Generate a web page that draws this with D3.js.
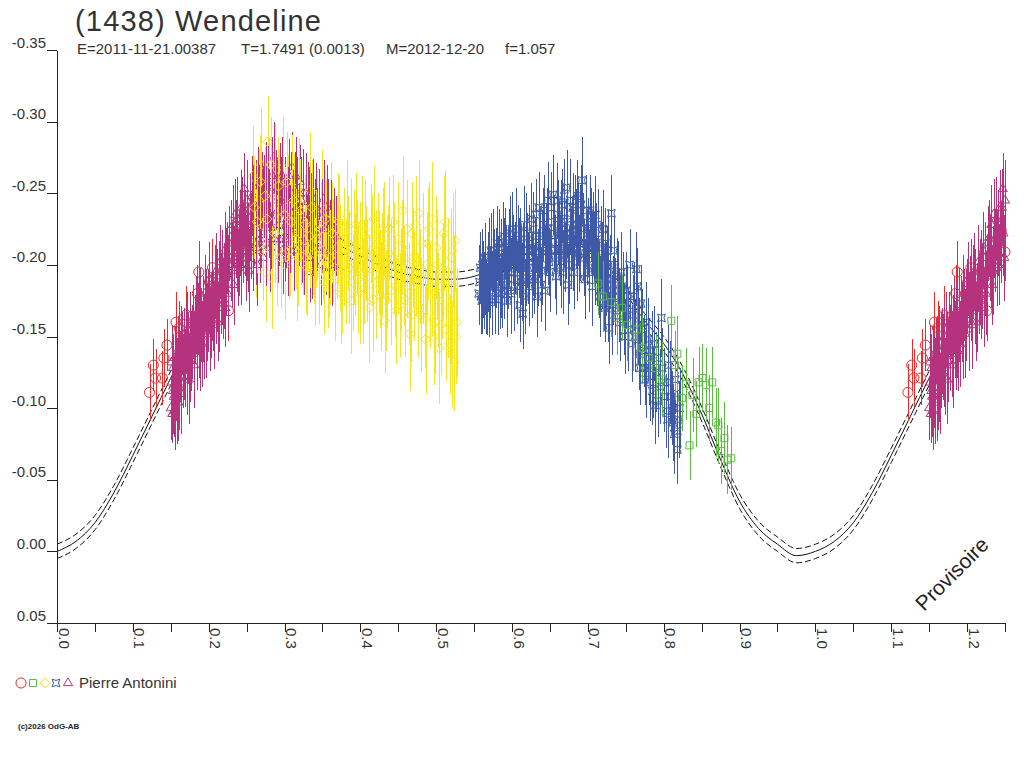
<!DOCTYPE html>
<html>
<head>
<meta charset="utf-8">
<script src="https://cdn.jsdelivr.net/npm/d3@7"></script>
<style>
  body { margin: 0; background: #fff; }
  svg { display: block; font-family: "Liberation Sans", Arial, sans-serif; }
</style>
</head>
<body>
<svg id="chart" width="1024" height="768"></svg>
<script>
/*** DATA ***/
var yTicks = [-0.35, -0.30, -0.25, -0.20, -0.15, -0.10, -0.05, 0.00, 0.05];
var xMajorTicks = [0, 0.1, 0.2, 0.3, 0.4, 0.5, 0.6, 0.7, 0.8, 0.9, 1.0, 1.1, 1.2];
var xMinorTicks = [0.05, 0.15, 0.25, 0.35, 0.45, 0.55, 0.65, 0.75, 0.85, 0.95, 1.05, 1.15, 1.25];

//fourier fit (phase 0..1) and its uncertainty band
var fitPhase = [0, 0.025, 0.05, 0.075, 0.1, 0.125, 0.15, 0.175, 0.2, 0.225, 0.25, 0.275, 0.3, 0.325, 0.35, 0.375, 0.4, 0.425, 0.45, 0.475, 0.5,
  0.525, 0.55, 0.575, 0.6, 0.625, 0.65, 0.675, 0.7, 0.725, 0.75, 0.775, 0.8, 0.825, 0.85, 0.875, 0.9, 0.925, 0.95, 0.975, 1.0];
var fitMag = [0.000, -0.007, -0.020, -0.041, -0.067, -0.094, -0.121, -0.147, -0.171, -0.194, -0.209, -0.217, -0.221, -0.222, -0.219, -0.213, -0.206,
  -0.200, -0.195, -0.192, -0.190, -0.190, -0.192, -0.197, -0.203, -0.209, -0.213, -0.214, -0.211, -0.200, -0.180, -0.161, -0.145, -0.124,
  -0.096, -0.064, -0.035, -0.016, -0.005, 0.003, 0.000];
var fitSigma = 0.005;

//observations: [phase, mag, error]
var redObs = [[0.122,-0.111,0.020],[0.127,-0.130,0.018],[0.130,-0.121,0.020],[0.139,-0.121,0.019],[0.141,-0.135,0.020],[0.145,-0.144,0.018],
  [0.157,-0.160,0.021],[0.161,-0.156,0.019],[0.170,-0.165,0.020],[0.185,-0.180,0.020],[0.187,-0.195,0.022],[0.201,-0.188,0.020],
  [0.205,-0.198,0.020],[0.217,-0.178,0.019],[0.226,-0.168,0.021],[0.236,-0.215,0.020],[0.245,-0.224,0.020],[0.250,-0.209,0.020],
  [0.262,-0.205,0.022],[0.300,-0.210,0.020],[0.315,-0.240,0.018],[0.342,-0.222,0.020],[0.350,-0.232,0.020]];

var yellowObs = [[0.258,-0.262,0.035],[0.262,-0.215,0.038],[0.266,-0.245,0.036],[0.269,-0.270,0.040],[0.272,-0.228,0.037],[0.275,-0.195,0.035],
  [0.278,-0.286,0.032],[0.280,-0.250,0.038],[0.283,-0.191,0.036],[0.285,-0.238,0.040],[0.288,-0.262,0.037],[0.290,-0.210,0.039],
  [0.293,-0.245,0.036],[0.296,-0.225,0.040],[0.298,-0.268,0.035],[0.301,-0.200,0.038],[0.304,-0.240,0.037],[0.307,-0.218,0.040],
  [0.310,-0.255,0.036],[0.313,-0.230,0.039],[0.316,-0.198,0.037],[0.319,-0.248,0.040],[0.322,-0.222,0.036],[0.325,-0.240,0.038],
  [0.328,-0.205,0.039],[0.331,-0.232,0.037],[0.334,-0.252,0.040],[0.337,-0.215,0.036],[0.340,-0.195,0.038],[0.343,-0.228,0.039],
  [0.346,-0.208,0.037],[0.349,-0.240,0.040],[0.352,-0.188,0.036],[0.355,-0.220,0.039],[0.358,-0.200,0.037],[0.361,-0.232,0.040],
  [0.364,-0.210,0.036],[0.367,-0.185,0.038],[0.370,-0.225,0.039],[0.373,-0.205,0.037],[0.376,-0.192,0.040],[0.379,-0.218,0.036],
  [0.382,-0.235,0.038],[0.385,-0.198,0.039],[0.388,-0.175,0.037],[0.391,-0.212,0.040],[0.394,-0.228,0.036],[0.397,-0.190,0.038],
  [0.400,-0.205,0.039],[0.403,-0.182,0.037],[0.406,-0.220,0.040],[0.409,-0.196,0.036],[0.412,-0.170,0.038],[0.415,-0.210,0.039],
  [0.418,-0.232,0.037],[0.421,-0.188,0.040],[0.424,-0.202,0.036],[0.427,-0.178,0.038],[0.430,-0.215,0.039],[0.432,-0.161,0.037],
  [0.435,-0.195,0.040],[0.438,-0.225,0.036],[0.441,-0.182,0.038],[0.444,-0.205,0.039],[0.447,-0.168,0.037],[0.450,-0.218,0.040],
  [0.453,-0.190,0.036],[0.456,-0.238,0.038],[0.459,-0.175,0.039],[0.462,-0.200,0.037],[0.465,-0.152,0.040],[0.468,-0.222,0.036],
  [0.471,-0.185,0.038],[0.474,-0.205,0.039],[0.477,-0.236,0.037],[0.480,-0.165,0.040],[0.483,-0.195,0.036],[0.486,-0.148,0.038],
  [0.489,-0.215,0.039],[0.492,-0.178,0.037],[0.495,-0.232,0.040],[0.498,-0.160,0.036],[0.501,-0.200,0.038],[0.504,-0.142,0.039],
  [0.507,-0.185,0.037],[0.510,-0.222,0.040],[0.513,-0.155,0.036],[0.516,-0.195,0.038],[0.519,-0.170,0.039],[0.521,-0.138,0.037],
  [0.522,-0.210,0.040],[0.524,-0.132,0.034],[0.525,-0.217,0.036],[0.527,-0.160,0.038]];
var yellowObs2 = [[0.260,-0.240,0.036],[0.264,-0.230,0.036],[0.268,-0.258,0.033],[0.271,-0.210,0.035],[0.274,-0.248,0.034],[0.277,-0.232,0.036],
  [0.282,-0.270,0.033],[0.287,-0.222,0.035],[0.292,-0.255,0.034],[0.295,-0.205,0.036],[0.300,-0.235,0.033],[0.303,-0.258,0.035],
  [0.306,-0.210,0.034],[0.309,-0.230,0.036],[0.312,-0.245,0.033],[0.315,-0.218,0.035],[0.318,-0.205,0.034],[0.321,-0.238,0.036],
  [0.324,-0.212,0.033],[0.327,-0.228,0.035],[0.330,-0.198,0.034],[0.333,-0.220,0.036],[0.336,-0.240,0.033],[0.339,-0.208,0.035],
  [0.342,-0.218,0.034],[0.345,-0.195,0.036],[0.348,-0.225,0.033],[0.351,-0.210,0.035],[0.354,-0.232,0.034],[0.357,-0.192,0.036],
  [0.360,-0.205,0.033],[0.363,-0.222,0.035],[0.366,-0.198,0.034],[0.369,-0.212,0.036],[0.372,-0.230,0.033],[0.375,-0.180,0.035],
  [0.378,-0.205,0.034],[0.381,-0.195,0.036],[0.384,-0.215,0.033],[0.387,-0.225,0.035],[0.390,-0.188,0.034],[0.393,-0.200,0.036],
  [0.396,-0.212,0.033],[0.399,-0.180,0.035],[0.402,-0.228,0.034],[0.405,-0.195,0.036],[0.408,-0.208,0.033],[0.411,-0.186,0.035],
  [0.414,-0.222,0.034],[0.417,-0.176,0.036],[0.420,-0.205,0.033],[0.423,-0.215,0.035],[0.426,-0.190,0.034],[0.429,-0.200,0.036],
  [0.431,-0.225,0.033],[0.434,-0.175,0.035],[0.437,-0.208,0.034],[0.440,-0.195,0.036],[0.443,-0.230,0.033],[0.446,-0.185,0.035],
  [0.449,-0.200,0.034],[0.452,-0.172,0.036],[0.455,-0.212,0.033],[0.458,-0.192,0.035],[0.461,-0.225,0.034],[0.464,-0.180,0.036],
  [0.467,-0.165,0.033],[0.470,-0.205,0.035],[0.473,-0.228,0.034],[0.476,-0.172,0.036],[0.479,-0.192,0.033],[0.482,-0.215,0.035],
  [0.485,-0.162,0.034],[0.488,-0.200,0.036],[0.491,-0.225,0.033],[0.494,-0.185,0.035],[0.497,-0.150,0.034],[0.500,-0.212,0.036],
  [0.503,-0.175,0.033],[0.506,-0.158,0.035],[0.509,-0.195,0.034],[0.512,-0.230,0.036],[0.515,-0.168,0.033],[0.518,-0.145,0.035],
  [0.520,-0.205,0.034],[0.523,-0.185,0.036],[0.526,-0.150,0.033]];

var magentaObs = [[0.150,-0.100,0.022],[0.151,-0.118,0.025],[0.152,-0.096,0.020],[0.153,-0.128,0.024],[0.154,-0.108,0.028],[0.155,-0.135,0.022],
  [0.156,-0.112,0.026],[0.158,-0.124,0.025],[0.159,-0.140,0.023],[0.160,-0.104,0.027],[0.162,-0.130,0.024],[0.163,-0.118,0.028],
  [0.165,-0.145,0.022],[0.166,-0.126,0.026],[0.168,-0.136,0.030],[0.170,-0.150,0.024],[0.171,-0.122,0.027],[0.173,-0.142,0.025],
  [0.175,-0.133,0.029],[0.176,-0.159,0.022],[0.178,-0.146,0.026],[0.180,-0.138,0.030],[0.182,-0.155,0.024],[0.184,-0.148,0.027],
  [0.186,-0.162,0.025],[0.188,-0.140,0.028],[0.190,-0.158,0.026],[0.192,-0.168,0.024],[0.194,-0.150,0.030],[0.196,-0.172,0.025],
  [0.198,-0.160,0.027],[0.200,-0.178,0.026],[0.202,-0.155,0.029],[0.204,-0.182,0.024],[0.206,-0.168,0.028],[0.208,-0.188,0.026],
  [0.210,-0.175,0.030],[0.212,-0.160,0.027],[0.214,-0.192,0.025],[0.216,-0.180,0.028],[0.218,-0.198,0.026],[0.220,-0.185,0.030],
  [0.222,-0.170,0.027],[0.224,-0.205,0.025],[0.226,-0.192,0.029],[0.229,-0.219,0.026],[0.231,-0.200,0.030],[0.233,-0.186,0.028],
  [0.235,-0.235,0.025],[0.237,-0.210,0.029],[0.239,-0.198,0.027],[0.241,-0.222,0.030],[0.243,-0.240,0.026],[0.245,-0.215,0.028],
  [0.247,-0.253,0.025],[0.249,-0.205,0.030],[0.251,-0.228,0.027],[0.253,-0.196,0.029],[0.255,-0.238,0.026],[0.257,-0.248,0.028],
  [0.259,-0.212,0.030],[0.262,-0.246,0.027],[0.264,-0.200,0.029],[0.266,-0.232,0.026],[0.268,-0.218,0.031],[0.270,-0.252,0.027],
  [0.272,-0.205,0.030],[0.275,-0.260,0.026],[0.277,-0.228,0.029],[0.279,-0.242,0.028],[0.281,-0.212,0.031],[0.283,-0.250,0.027],
  [0.286,-0.275,0.025],[0.288,-0.230,0.030],[0.290,-0.245,0.028],[0.292,-0.218,0.031],[0.294,-0.258,0.027],[0.296,-0.236,0.029],
  [0.298,-0.210,0.030],[0.300,-0.248,0.027],[0.302,-0.228,0.031],[0.304,-0.206,0.028],[0.306,-0.262,0.026],[0.308,-0.240,0.030],
  [0.310,-0.268,0.025],[0.312,-0.222,0.029],[0.314,-0.252,0.027],[0.316,-0.236,0.031],[0.318,-0.214,0.028],[0.320,-0.258,0.026],
  [0.322,-0.245,0.030],[0.324,-0.228,0.027],[0.326,-0.208,0.029],[0.328,-0.250,0.028],[0.330,-0.195,0.026],[0.332,-0.238,0.030],
  [0.334,-0.220,0.027],[0.336,-0.205,0.029],[0.338,-0.246,0.028],[0.340,-0.230,0.030],[0.342,-0.212,0.027],[0.345,-0.238,0.029],
  [0.348,-0.200,0.028],[0.350,-0.224,0.030],[0.352,-0.246,0.027],[0.355,-0.208,0.029],[0.357,-0.232,0.028],[0.360,-0.215,0.030],
  [0.362,-0.198,0.027],[0.365,-0.225,0.029]];
var magentaObs2 = [[0.151,-0.132,0.026],[0.153,-0.112,0.030],[0.155,-0.098,0.027],[0.157,-0.120,0.029],[0.158,-0.106,0.031],[0.160,-0.138,0.026],
  [0.161,-0.115,0.030],[0.163,-0.146,0.025],[0.164,-0.110,0.028],[0.167,-0.140,0.030],[0.169,-0.128,0.027],[0.172,-0.155,0.026],
  [0.174,-0.120,0.031],[0.177,-0.140,0.028],[0.179,-0.160,0.026],[0.181,-0.130,0.030],[0.183,-0.165,0.027],[0.185,-0.142,0.029],
  [0.187,-0.152,0.031],[0.189,-0.172,0.026],[0.191,-0.145,0.030],[0.193,-0.160,0.028],[0.195,-0.180,0.027],[0.197,-0.152,0.031],
  [0.199,-0.168,0.029],[0.201,-0.190,0.026],[0.203,-0.165,0.030],[0.205,-0.175,0.028],[0.207,-0.158,0.031],[0.209,-0.195,0.027],
  [0.211,-0.182,0.029],[0.213,-0.170,0.031],[0.215,-0.202,0.026],[0.217,-0.188,0.030],[0.219,-0.176,0.028],[0.221,-0.210,0.027],
  [0.223,-0.195,0.031],[0.225,-0.180,0.029],[0.227,-0.215,0.026],[0.230,-0.205,0.030],[0.232,-0.228,0.028],[0.234,-0.196,0.031],
  [0.236,-0.218,0.027],[0.238,-0.232,0.029],[0.240,-0.208,0.030],[0.242,-0.200,0.028],[0.244,-0.230,0.031],[0.246,-0.240,0.027],
  [0.248,-0.222,0.030],[0.250,-0.245,0.028],[0.252,-0.212,0.031],[0.254,-0.232,0.029],[0.256,-0.220,0.030],[0.258,-0.242,0.028],
  [0.260,-0.230,0.031],[0.263,-0.215,0.029],[0.265,-0.255,0.027],[0.267,-0.240,0.030],[0.269,-0.226,0.028],[0.271,-0.238,0.031],
  [0.273,-0.248,0.029],[0.276,-0.215,0.030],[0.278,-0.255,0.028],[0.280,-0.236,0.031],[0.282,-0.226,0.029],[0.284,-0.262,0.027],
  [0.287,-0.218,0.030],[0.289,-0.252,0.028],[0.291,-0.238,0.031],[0.293,-0.228,0.029],[0.295,-0.245,0.030],[0.297,-0.262,0.027],
  [0.299,-0.232,0.031],[0.301,-0.218,0.029],[0.303,-0.255,0.030],[0.305,-0.240,0.028],[0.307,-0.225,0.031],[0.309,-0.250,0.029],
  [0.311,-0.236,0.030],[0.313,-0.210,0.028],[0.315,-0.262,0.027],[0.317,-0.244,0.031],[0.319,-0.228,0.029],[0.321,-0.236,0.030],
  [0.323,-0.215,0.028],[0.325,-0.250,0.031],[0.327,-0.232,0.029],[0.329,-0.218,0.030],[0.331,-0.244,0.028],[0.333,-0.205,0.031],
  [0.335,-0.235,0.029],[0.337,-0.222,0.030],[0.339,-0.212,0.028],[0.341,-0.240,0.031],[0.343,-0.225,0.029],[0.346,-0.215,0.030],
  [0.349,-0.232,0.028],[0.351,-0.210,0.031],[0.353,-0.225,0.029],[0.356,-0.240,0.030],[0.358,-0.205,0.028],[0.361,-0.228,0.031],
  [0.363,-0.212,0.029],[0.366,-0.200,0.030],[0.368,-0.220,0.028]];

var blueObs = [[0.556,-0.180,0.022],[0.558,-0.198,0.025],[0.560,-0.175,0.023],[0.562,-0.190,0.027],[0.564,-0.205,0.024],[0.566,-0.178,0.026],
  [0.568,-0.195,0.028],[0.570,-0.174,0.024],[0.572,-0.210,0.026],[0.574,-0.185,0.025],[0.576,-0.198,0.027],[0.578,-0.176,0.024],
  [0.580,-0.215,0.026],[0.582,-0.192,0.028],[0.584,-0.180,0.025],[0.586,-0.205,0.027],[0.588,-0.220,0.024],[0.590,-0.188,0.026],
  [0.592,-0.200,0.028],[0.594,-0.175,0.025],[0.596,-0.212,0.027],[0.598,-0.195,0.024],[0.600,-0.225,0.026],[0.602,-0.182,0.028],
  [0.604,-0.205,0.025],[0.606,-0.190,0.027],[0.608,-0.218,0.024],[0.610,-0.172,0.026],[0.612,-0.200,0.028],[0.614,-0.166,0.025],
  [0.616,-0.228,0.027],[0.618,-0.195,0.024],[0.620,-0.210,0.026],[0.622,-0.185,0.028],[0.625,-0.232,0.025],[0.627,-0.205,0.027],
  [0.629,-0.190,0.024],[0.631,-0.220,0.026],[0.633,-0.178,0.028],[0.635,-0.240,0.025],[0.637,-0.212,0.027],[0.639,-0.196,0.024],
  [0.641,-0.228,0.026],[0.643,-0.182,0.028],[0.645,-0.218,0.025],[0.647,-0.245,0.027],[0.649,-0.202,0.024],[0.651,-0.230,0.026],
  [0.654,-0.249,0.028],[0.656,-0.210,0.025],[0.658,-0.192,0.027],[0.660,-0.235,0.024],[0.662,-0.218,0.026],[0.664,-0.198,0.028],
  [0.666,-0.242,0.025],[0.668,-0.225,0.027],[0.670,-0.205,0.024],[0.672,-0.254,0.026],[0.674,-0.186,0.028],[0.676,-0.232,0.025],
  [0.678,-0.212,0.027],[0.680,-0.240,0.024],[0.682,-0.195,0.026],[0.684,-0.225,0.028],[0.686,-0.248,0.025],[0.688,-0.208,0.027],
  [0.690,-0.232,0.024],[0.692,-0.259,0.030],[0.694,-0.215,0.026],[0.696,-0.190,0.028],[0.698,-0.238,0.025],[0.700,-0.220,0.027],
  [0.702,-0.200,0.024],[0.704,-0.228,0.026],[0.706,-0.185,0.028],[0.708,-0.212,0.025],[0.710,-0.235,0.027],[0.712,-0.195,0.024],
  [0.714,-0.218,0.026],[0.716,-0.178,0.028],[0.718,-0.205,0.025],[0.720,-0.225,0.027],[0.722,-0.170,0.024],[0.724,-0.190,0.026],
  [0.726,-0.210,0.028],[0.728,-0.156,0.025],[0.731,-0.236,0.027],[0.733,-0.182,0.024],[0.735,-0.200,0.026],[0.738,-0.168,0.028],
  [0.740,-0.192,0.025],[0.743,-0.160,0.027],[0.746,-0.185,0.024],[0.749,-0.150,0.026],[0.752,-0.172,0.028],[0.755,-0.200,0.025],
  [0.758,-0.145,0.027],[0.761,-0.178,0.024],[0.764,-0.197,0.026],[0.766,-0.158,0.028],[0.768,-0.138,0.025],[0.770,-0.173,0.027],
  [0.772,-0.142,0.024],[0.775,-0.128,0.026],[0.777,-0.160,0.028],[0.780,-0.135,0.025],[0.782,-0.118,0.027],[0.785,-0.112,0.024],
  [0.787,-0.145,0.026],[0.790,-0.125,0.028],[0.793,-0.105,0.025],[0.797,-0.163,0.027],[0.800,-0.118,0.024],[0.803,-0.098,0.026],
  [0.806,-0.130,0.028],[0.809,-0.108,0.025],[0.812,-0.090,0.027],[0.815,-0.120,0.024],[0.818,-0.084,0.026],[0.818,-0.071,0.024],
  [0.821,-0.100,0.028]];
var blueObs2 = [[0.557,-0.188,0.026],[0.559,-0.178,0.026],[0.561,-0.200,0.025],[0.563,-0.182,0.027],[0.565,-0.192,0.027],[0.567,-0.176,0.025],
  [0.569,-0.205,0.028],[0.571,-0.188,0.025],[0.573,-0.178,0.027],[0.575,-0.210,0.029],[0.577,-0.185,0.026],[0.579,-0.198,0.028],
  [0.581,-0.176,0.025],[0.583,-0.212,0.027],[0.585,-0.192,0.029],[0.587,-0.182,0.026],[0.589,-0.205,0.028],[0.591,-0.215,0.025],
  [0.593,-0.186,0.027],[0.595,-0.198,0.029],[0.597,-0.222,0.026],[0.599,-0.180,0.028],[0.601,-0.210,0.025],[0.603,-0.195,0.027],
  [0.605,-0.225,0.029],[0.607,-0.185,0.026],[0.609,-0.205,0.028],[0.611,-0.215,0.025],[0.613,-0.188,0.027],[0.615,-0.200,0.029],
  [0.617,-0.178,0.026],[0.619,-0.222,0.028],[0.621,-0.198,0.025],[0.623,-0.215,0.027],[0.626,-0.192,0.029],[0.628,-0.225,0.026],
  [0.630,-0.205,0.028],[0.632,-0.235,0.025],[0.634,-0.198,0.027],[0.636,-0.220,0.029],[0.638,-0.186,0.026],[0.640,-0.210,0.028],
  [0.642,-0.238,0.025],[0.644,-0.200,0.027],[0.646,-0.225,0.029],[0.648,-0.212,0.026],[0.650,-0.195,0.028],[0.652,-0.240,0.025],
  [0.655,-0.222,0.027],[0.657,-0.205,0.029],[0.659,-0.245,0.026],[0.661,-0.228,0.028],[0.663,-0.210,0.025],[0.665,-0.232,0.027],
  [0.667,-0.195,0.029],[0.669,-0.248,0.026],[0.671,-0.218,0.028],[0.673,-0.230,0.025],[0.675,-0.200,0.027],[0.677,-0.245,0.029],
  [0.679,-0.222,0.026],[0.681,-0.210,0.028],[0.683,-0.238,0.025],[0.685,-0.202,0.027],[0.687,-0.228,0.029],[0.689,-0.215,0.026],
  [0.691,-0.242,0.028],[0.693,-0.225,0.025],[0.695,-0.205,0.027],[0.697,-0.230,0.029],[0.699,-0.212,0.026],[0.701,-0.195,0.028],
  [0.703,-0.238,0.025],[0.705,-0.210,0.027],[0.707,-0.222,0.029],[0.709,-0.198,0.026],[0.711,-0.215,0.028],[0.713,-0.228,0.025],
  [0.715,-0.190,0.027],[0.717,-0.212,0.029],[0.719,-0.195,0.026],[0.721,-0.182,0.028],[0.723,-0.215,0.025],[0.725,-0.200,0.027],
  [0.727,-0.175,0.029],[0.729,-0.195,0.026],[0.732,-0.165,0.028],[0.734,-0.210,0.025],[0.736,-0.178,0.027],[0.739,-0.190,0.029],
  [0.741,-0.172,0.026],[0.744,-0.195,0.028],[0.747,-0.162,0.025],[0.750,-0.182,0.027],[0.753,-0.155,0.029],[0.756,-0.178,0.026],
  [0.759,-0.165,0.028],[0.762,-0.150,0.025],[0.765,-0.185,0.027],[0.767,-0.148,0.029],[0.769,-0.128,0.026],[0.771,-0.155,0.028],
  [0.774,-0.140,0.025],[0.776,-0.120,0.027],[0.779,-0.148,0.029],[0.781,-0.128,0.026],[0.784,-0.140,0.028],[0.786,-0.118,0.025],
  [0.789,-0.102,0.027],[0.792,-0.135,0.029],[0.795,-0.115,0.026],[0.798,-0.128,0.028],[0.801,-0.108,0.025],[0.805,-0.092,0.027],
  [0.808,-0.118,0.029],[0.811,-0.100,0.026],[0.814,-0.082,0.028],[0.817,-0.110,0.025],[0.820,-0.092,0.027]];

var greenObs = [[0.713,-0.187,0.022],[0.720,-0.178,0.025],[0.731,-0.174,0.024],[0.739,-0.163,0.026],[0.745,-0.170,0.023],[0.752,-0.158,0.025],
  [0.759,-0.150,0.024],[0.765,-0.155,0.026],[0.772,-0.142,0.023],[0.781,-0.135,0.025],[0.790,-0.128,0.024],[0.798,-0.120,0.026],
  [0.810,-0.161,0.025],[0.815,-0.130,0.024],[0.818,-0.138,0.026],[0.824,-0.107,0.023],[0.829,-0.117,0.025],[0.834,-0.074,0.024],
  [0.838,-0.109,0.026],[0.843,-0.096,0.023],[0.846,-0.118,0.025],[0.851,-0.121,0.024],[0.856,-0.116,0.026],[0.860,-0.100,0.023],
  [0.864,-0.118,0.025],[0.869,-0.090,0.024],[0.872,-0.088,0.026],[0.876,-0.070,0.023],[0.880,-0.079,0.025],[0.884,-0.064,0.024],
  [0.889,-0.065,0.022]];

var observer = 'Pierre Antonini';

/*** SETUP ***/
var textColor = '#333';
var svg = d3.select('#chart');

var x = d3.scaleLinear().domain([0, 1.25]).range([57, 1005]);
var y = d3.scaleLinear().domain([-0.35, 0.05]).range([50, 623]);

//marker shapes
var diamondType = { draw: function(ctx, size) {
  var r = Math.sqrt(size) / 2;
  ctx.moveTo(0, -r); ctx.lineTo(r, 0); ctx.lineTo(0, r); ctx.lineTo(-r, 0); ctx.closePath();
}};
var starType = { draw: function(ctx, size) {
  var r = Math.sqrt(size) / 2, k = r * 0.3;
  ctx.moveTo(-r, -r);
  ctx.quadraticCurveTo(0, -k, r, -r);
  ctx.quadraticCurveTo(k, 0, r, r);
  ctx.quadraticCurveTo(0, k, -r, r);
  ctx.quadraticCurveTo(-k, 0, -r, -r);
  ctx.closePath();
}};

var red = { color: '#f02a2a', symbol: d3.symbol().type(d3.symbolCircle).size(80) };
var yellow = { color: '#f6e41c', symbol: d3.symbol().type(diamondType).size(100) };
var magenta = { color: '#b5337e', symbol: d3.symbol().type(d3.symbolTriangle).size(36) };
var blue = { color: '#3d59a7', symbol: d3.symbol().type(starType).size(60) };
var green = { color: '#5bbd3f', symbol: d3.symbol().type(d3.symbolSquare).size(49) };

//sessions in drawing order, legend order
var layers = [
  [redObs, red], [magentaObs, magenta], [yellowObs, yellow], [magentaObs2, magenta], [yellowObs2, yellow],
  [blueObs, blue], [blueObs2, blue], [greenObs, green]
];
var legendOrder = [red, green, yellow, blue, magenta];

/*** FIT CURVE ***/
var fitPoints = fitPhase.map(function(p, i) { return [p, fitMag[i]]; });
fitPhase.forEach(function(p, i) {
  if (p > 0 && p + 1 <= 1.25) fitPoints.push([p + 1, fitMag[i]]);
});

var fitLine = d3.line()
  .x(function(d) { return x(d[0]); })
  .y(function(d) { return y(d[1]); })
  .curve(d3.curveMonotoneX);

var fitG = svg.append('g').attr('class', 'fit');
[-fitSigma, fitSigma].forEach(function(s) {
  fitG.append('path')
    .attr('d', fitLine(fitPoints.map(function(d) { return [d[0], d[1] + s]; })))
    .attr('fill', 'none')
    .attr('stroke', '#111')
    .attr('stroke-width', 1)
    .attr('stroke-dasharray', '6,3');
});
fitG.append('path')
  .attr('d', fitLine(fitPoints))
  .attr('fill', 'none')
  .attr('stroke', '#111')
  .attr('stroke-width', 1);

/*** OBSERVATIONS ***/
layers.forEach(function(layer) {
  var obs = layer[0], s = layer[1];

  //repeat phases 0..0.25 beyond 1.0
  var pts = obs.slice();
  obs.forEach(function(d) {
    if (d[0] + 1 <= 1.25) pts.push([d[0] + 1, d[1], d[2]]);
  });

  var g = svg.append('g');
  g.selectAll('line')
    .data(pts)
    .enter().append('line')
    .attr('x1', function(d) { return Math.round(x(d[0])) + 0.5; })
    .attr('x2', function(d) { return Math.round(x(d[0])) + 0.5; })
    .attr('y1', function(d) { return y(d[1] - d[2]); })
    .attr('y2', function(d) { return y(d[1] + d[2]); })
    .attr('stroke', s.color)
    .attr('stroke-width', 1)
    .attr('shape-rendering', 'crispEdges');

  g.selectAll('path')
    .data(pts)
    .enter().append('path')
    .attr('d', s.symbol)
    .attr('transform', function(d) { return 'translate(' + x(d[0]) + ',' + y(d[1]) + ')'; })
    .attr('fill', 'none')
    .attr('stroke', s.color)
    .attr('stroke-width', 1);
});

/*** AXES ***/
var yAxis = d3.axisLeft(y)
  .tickValues(yTicks)
  .tickSize(10)
  .tickSizeOuter(0)
  .tickFormat(function(d) { return d.toFixed(2); });

var yG = svg.append('g')
  .attr('transform', 'translate(57,0)')
  .call(yAxis);
yG.selectAll('text')
  .attr('x', -11)
  .attr('y', -3)
  .attr('dy', null)
  .attr('fill', textColor)
  .style('font-size', '15px');

var xAxis = d3.axisBottom(x)
  .tickValues(xMajorTicks)
  .tickSize(9)
  .tickSizeOuter(0)
  .tickFormat(function(d) { return d.toFixed(1); });

var xG = svg.append('g')
  .attr('transform', 'translate(0,623)')
  .call(xAxis);
xG.select('.domain').attr('d', 'M' + (x(0) - 9) + ',0.5H' + (x(1.25) + 0.5));
xG.selectAll('text')
  .attr('x', 5)
  .attr('y', -1)
  .attr('dy', null)
  .attr('transform', 'rotate(90)')
  .style('text-anchor', 'start')
  .attr('fill', textColor)
  .style('font-size', '15px');

var xMinor = d3.axisBottom(x)
  .tickValues(xMinorTicks)
  .tickSize(9)
  .tickSizeOuter(0)
  .tickFormat('');
var xmG = svg.append('g')
  .attr('transform', 'translate(0,623)')
  .call(xMinor);
xmG.select('.domain').remove();

svg.selectAll('.domain, .tick line').attr('stroke', '#222').attr('shape-rendering', 'crispEdges');

/*** TITLES ***/
svg.append('text')
  .attr('x', 75)
  .attr('y', 31)
  .attr('fill', textColor)
  .attr('textLength', 246)
  .attr('lengthAdjust', 'spacing')
  .style('font-size', '29px')
  .text('(1438) Wendeline');

var subtitle = [
  { x: 77, label: 'E=2011-11-21.00387' },
  { x: 241, label: 'T=1.7491 (0.0013)' },
  { x: 386, label: 'M=2012-12-20' },
  { x: 505, label: 'f=1.057' }
];
svg.selectAll('.subtitle')
  .data(subtitle)
  .enter().append('text')
  .attr('class', 'subtitle')
  .attr('x', function(d) { return d.x; })
  .attr('y', 54)
  .attr('fill', textColor)
  .style('font-size', '15px')
  .text(function(d) { return d.label; });

//watermark
svg.append('text')
  .attr('transform', 'translate(924,612) rotate(-45)')
  .attr('fill', '#222')
  .style('font-size', '21px')
  .text('Provisoire');

/*** LEGEND ***/
var legendX = [21, 33, 45, 56, 68];
var legend = svg.append('g').attr('class', 'legend');
legendOrder.forEach(function(s, i) {
  legend.append('path')
    .attr('d', s.symbol)
    .attr('transform', 'translate(' + legendX[i] + ',683)')
    .attr('fill', 'none')
    .attr('stroke', s.color)
    .attr('stroke-width', 1);
});
legend.append('text')
  .attr('x', 79)
  .attr('y', 688)
  .attr('fill', textColor)
  .style('font-size', '15px')
  .text(observer);

//footnote
svg.append('text')
  .attr('x', 18)
  .attr('y', 729)
  .attr('fill', '#222')
  .style('font-size', '8px')
  .style('font-weight', 'bold')
  .text('(c)2026 OdG-AB');
</script>
</body>
</html>
